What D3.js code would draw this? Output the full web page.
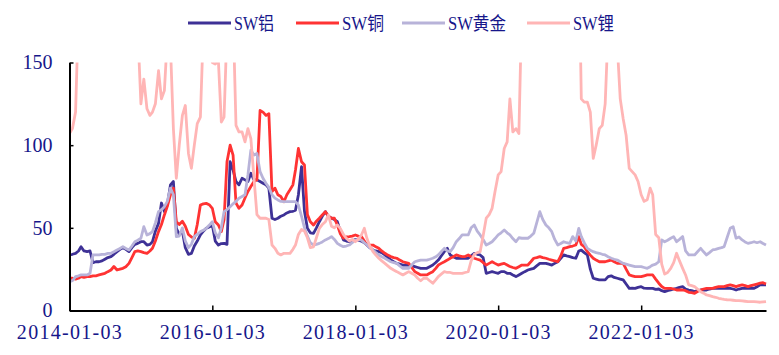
<!DOCTYPE html>
<html><head><meta charset="utf-8">
<script src="https://cdn.jsdelivr.net/npm/d3@7/dist/d3.min.js"></script>
<style>
html,body{margin:0;padding:0;background:#fff;}
svg text{font-family:"Liberation Serif","Times New Roman","Noto Sans CJK SC",serif;}
</style></head>
<body><svg id="chart" width="779" height="355"></svg>
<script>
// semi-monthly observations, 2014-01-03 .. 2023-10-03
const seriesNames = ["SW铝", "SW铜", "SW黄金", "SW锂"];
const seriesColors = ["#3e3196", "#ff3333", "#b8b3d9", "#ffb5b5"];
const xTickLabels = ["2014-01-03", "2016-01-03", "2018-01-03", "2020-01-03", "2022-01-03"];
const yTickValues = [0, 50, 100, 150];

const alu = [33.6,34, 34.6,36, 38.6,36, 35.6,36, 29,29.5, 29.5,30, 31,32, 32.6,34, 35.6,37, 38,37,
 35.6,38, 40,40.6, 41.6,41.6, 39.6,40, 41.6,48, 52.7,65, 59.8,64, 76,78, 49.7,46, 48,38,
 34,34.5, 39,42, 45.7,48, 49.7,50.5, 51.7,42, 39.6,40.5, 40.6,40, 90,85, 78,76, 80,79,
 78,83, 79,79, 78,77, 76,74, 55.8,55, 55.8,57, 57.8,59, 59.8,60, 60.7,70, 87,60,
 49.7,47, 46.7,50, 53.7,57, 59.8,57, 55.8,55, 53.7,48, 42.7,42, 41.6,42, 43,42.5, 42,41,
 39.6,38, 36.6,36, 35.6,35, 33.6,32, 30.6,29.5, 28.5,28, 27.5,27.5, 27.5,27, 26.5,26, 25.5,25.5,
 25.5,26.5, 27.5,29, 30.5,33, 35.6,37.6, 33.6,32.5, 31.6,31.6, 31.6,31.5, 31.6,33, 34.6,34, 33.6,32,
 22.5,23, 23.5,23, 22.5,23.5, 23.5,22.5, 22.5,21.5, 20.5,21.5, 22.5,23.5, 24.5,25, 25.5,27, 28.5,28.5,
 28.5,28, 27.5,28.5, 29.5,31.5, 33.6,33, 32.6,32, 31.6,36, 36.5,35, 33.6,25, 19.5,19, 18.5,18.5,
 18.5,20.5, 21,20, 19.5,19, 18.5,16, 13.4,13.5, 13.4,14, 14.4,13.5, 13.4,13.4, 13.4,12.8, 13,12,
 11.4,12, 12.4,13, 13.4,14, 14.4,13, 12.4,12, 11.4,12, 12.4,12.4, 12.4,13, 13.4,13.4, 13.4,13.4,
 13.4,13.6, 13.4,13, 12.4,13, 13.4,13.4, 13.4,13.6, 13.4,14.4, 15.5,15.5, 15.5];

const copper = [19.5,19.5, 19,19.5, 20.5,20, 20.5,20.5, 21,21, 21.5,22, 22.5,23.5, 24.5,26.6, 24.5,25, 25.5,26.5,
 28.5,32, 35.6,36, 35.6,35, 34.6,36, 37.6,42, 47.7,52, 57.8,63, 70,74, 53.7,52, 54,51,
 46,44.5, 43.7,52, 63.8,64.5, 64.8,64, 61.8,53.7, 51.7,47.7, 55,90, 100,94, 65,61.8, 63.8,68,
 72,75, 78,79, 121,120, 118,119, 72,74, 70,69, 65.8,70, 73,76, 85,98, 90,88,
 58,53.7, 51.7,54, 55.8,57.8, 59.8,57, 55.8,55.8, 51.7,46.5, 43.7,44.5, 44.7,45, 45.7,45, 44.7,42,
 39.6,39.6, 39.6,38.5, 37.6,36, 34.6,33.5, 32.6,32, 31.6,30.5, 29.5,29, 28.5,26, 23.5,22.5, 21.5,21.5,
 21.5,22.5, 23.5,25.5, 27.5,28.5, 29.5,30.5, 31.6,32.5, 33.6,33, 32.6,32.6, 33.6,32.5, 31.6,31, 30.5,29,
 27.5,28.5, 29.5,28.5, 27.5,28, 28.5,27.5, 26.6,26, 25.5,26.5, 27.5,27.5, 27.5,29.5, 31.6,32, 32.6,32,
 31.6,31, 30.5,30, 29.5,33, 37.6,38, 38.6,39, 39.6,44.7, 40,38.6, 35.6,33.5, 31.6,30.5, 29.5,29.5,
 29.5,30, 30.5,29.5, 28.5,28.5, 28.5,25, 21.5,21, 20.5,20.5, 20.5,21, 21.5,21.5, 21.5,19, 16.5,14.5,
 13.4,13.4, 13.4,13, 12.4,12.4, 12.4,12, 11,10.8, 10.4,11.5, 12.4,13, 13.4,13.4, 13.4,14, 14.4,14.4,
 14.4,15, 15.5,15, 14.4,15, 15.5,15, 14.4,15, 15.5,16, 16.5,16.8, 16];

const gold = [17.4,18, 20.5,21, 21.5,21.5, 21.5,22.5, 33.6,33.6, 33.6,34, 34,34.5, 34.6,35.5, 36.6,37.5, 38.6,37.5,
 36.6,39, 41.6,42.5, 43.7,50.7, 45.7,46.5, 47.7,53, 59.8,61, 62.8,66, 74,70, 44.7,45, 50,42,
 38,40, 44.7,46, 47.7,48.5, 49.7,51.5, 53.7,47, 44,50, 59.8,61, 62.8,64.5, 66,67.9, 69,70,
 82,97, 94,95, 84,80, 77,74.5, 70,68, 66.9,66, 65.8,65.8, 65.8,65.8, 65.8,63.8, 57,50,
 45,41, 39.6,40, 40.6,41.5, 42.7,43.5, 44.7,43, 40.6,39.5, 38.6,39, 39.6,41, 42.7,42.7, 42.7,41,
 39.6,38, 36.6,35, 33.6,32.5, 31.6,30.5, 29.5,29, 28.5,27, 25.5,25.5, 25.5,27.5, 29.5,30, 30.5,30.5,
 30.5,31, 31.6,32.5, 33.6,35.5, 37.6,36, 35.6,38, 41.6,43.5, 45.7,45.7, 45.7,50, 51.7,48, 45.7,43,
 39.6,40.5, 41.6,43.5, 45.7,47, 48.7,47, 45.7,43.5, 41.6,44, 43.7,43.7, 43.7,45, 46.7,53, 59.8,55,
 51.7,50, 47.7,43, 39.6,40.5, 41.6,41, 40.6,44.7, 42,49.7, 44.7,41, 37.6,36.5, 35.6,35, 34.6,34,
 33.6,32.5, 31.6,31, 30.5,29.5, 28.5,28, 27.5,27, 26.5,26.5, 26.5,26, 25.5,26.5, 27.5,28, 29.5,42.7,
 41.6,42.5, 43.7,44.7, 41.6,43, 44.7,36, 33.6,33.6, 33.6,35.5, 37.6,35.5, 33.6,35, 36.6,37, 37.6,38,
 38.6,44, 49.7,50.7, 43.7,44.5, 42.7,41.5, 40.6,41, 41.6,41, 41.6,40.5, 39.6];

const lithium = [107,110, 120,180, 200,220, 240,250, 260,250, 240,260, 280,270, 260,250, 240,250, 260,250,
 240,220, 200,170, 125,140, 122,118, 120,125, 145,128, 133,165, 160,110, 80,100, 118,124,
 95,86, 100,113, 117,170, 200,190, 150,149, 151,114, 117,170, 200,180, 112,108, 108,102,
 110,104, 80,58, 55.8,55.8, 55.8,55, 39.6,37.6, 34.6,33.6, 34.6,34.6, 34.6,37, 39.6,46, 49,48,
 44,38, 38.5,44, 49.7,52, 53.7,57.8, 51,50, 51.7,49.7, 46,43.7, 42,43, 41.6,43, 45.7,49.7,
 43.7,39, 35.6,33.5, 31.6,30, 28.5,27, 25.5,24.5, 23.5,22.5, 21.5,22.5, 23.5,22.5, 21.5,19.5, 18,19.5,
 19.5,18, 16.5,18.5, 20.5,22, 23.5,23, 23,22.5, 22.5,22.5, 22.5,23, 23.5,30, 34,35, 35.6,45,
 55.8,58, 61.8,72, 82,84, 98,102, 128,108, 110,107, 185,240, 260,280, 300,320, 330,350,
 360,380, 400,420, 430,450, 460,440, 400,380, 300,220, 128,126, 126,120, 92,100, 110,112,
 125,170, 190,160, 160,128, 116,106, 86,84, 82,78, 70,66, 67,74, 70,46, 44,28,
 22,23, 25.5,29, 34.6,30, 25.5,21.5, 15.5,15, 14.4,13, 11.4,10.5, 9.4,9, 8.4,8, 7.4,7,
 6.7,6.5, 6.4,6.2, 6,6, 5.8,5.6, 5.4,5.4, 5.4,5.2, 5,5.2, 5.4];

(function () {
const seriesValues = [alu, copper, gold, lithium];
const dates = d3.range(alu.length).map(i => new Date(2014, Math.floor(i / 2), i % 2 ? 18 : 3));
const parse = d3.timeParse("%Y-%m-%d");

const svg = d3.select("#chart");
const textColor = "#16168a";
const pLeft = 69.5, pRight = 766, pTop = 62.5, pBottom = 310.5;

const x = d3.scaleTime().domain([parse("2014-01-03"), parse("2023-10-03")]).range([pLeft, pRight]);
const y = d3.scaleLinear().domain([0, 150]).range([pBottom, pTop]);

svg.append("defs").append("clipPath").attr("id", "plotClip")
  .append("rect").attr("x", pLeft).attr("y", pTop).attr("width", pRight - pLeft + 2).attr("height", pBottom - pTop);

const line = d3.line().x((d, i) => x(dates[i])).y(d => y(d));
const g = svg.append("g").attr("clip-path", "url(#plotClip)");
seriesValues.forEach((vals, k) => {
  g.append("path").datum(vals).attr("d", line)
    .attr("fill", "none").attr("stroke", seriesColors[k])
    .attr("stroke-width", 2.8).attr("stroke-linejoin", "round");
});

const xAxis = d3.axisBottom(x).tickValues(xTickLabels.map(parse))
  .tickFormat(d3.timeFormat("%Y-%m-%d")).tickSizeInner(-5).tickSizeOuter(0).tickPadding(14);
const gx = svg.append("g").attr("transform", `translate(0,${pBottom})`).call(xAxis);
gx.select(".domain").attr("stroke", "#000").attr("stroke-width", 2);
gx.selectAll(".tick line").attr("stroke", "#000").attr("stroke-width", 1.5);
gx.selectAll(".tick text").attr("fill", textColor).attr("font-size", 20)
  .attr("font-family", "Liberation Serif, Times New Roman, serif").attr("letter-spacing", 1.3);

const yAxis = d3.axisLeft(y).tickValues(yTickValues).tickSizeInner(-4).tickSizeOuter(0).tickPadding(17);
const gy = svg.append("g").attr("transform", `translate(${pLeft},0)`).call(yAxis);
gy.select(".domain").attr("stroke", "#000").attr("stroke-width", 2);
gy.selectAll(".tick line").attr("stroke", "#000").attr("stroke-width", 1.5);
gy.selectAll(".tick text").attr("fill", textColor).attr("font-size", 20)
  .attr("font-family", "Liberation Serif, Times New Roman, serif");

const legendX = [188, 296, 402, 527];
const legendTextW = [40, 42, 58, 41];
const legendY = 23;
const lg = svg.append("g");
seriesNames.forEach((name, k) => {
  lg.append("line").attr("x1", legendX[k]).attr("x2", legendX[k] + 43)
    .attr("y1", legendY).attr("y2", legendY)
    .attr("stroke", seriesColors[k]).attr("stroke-width", 3.2);
  lg.append("text").attr("x", legendX[k] + 46).attr("y", legendY + 6.5)
    .attr("fill", textColor).attr("font-size", 18)
    .attr("textLength", legendTextW[k]).attr("lengthAdjust", "spacingAndGlyphs")
    .text(name);
});
})();
</script></body></html>
